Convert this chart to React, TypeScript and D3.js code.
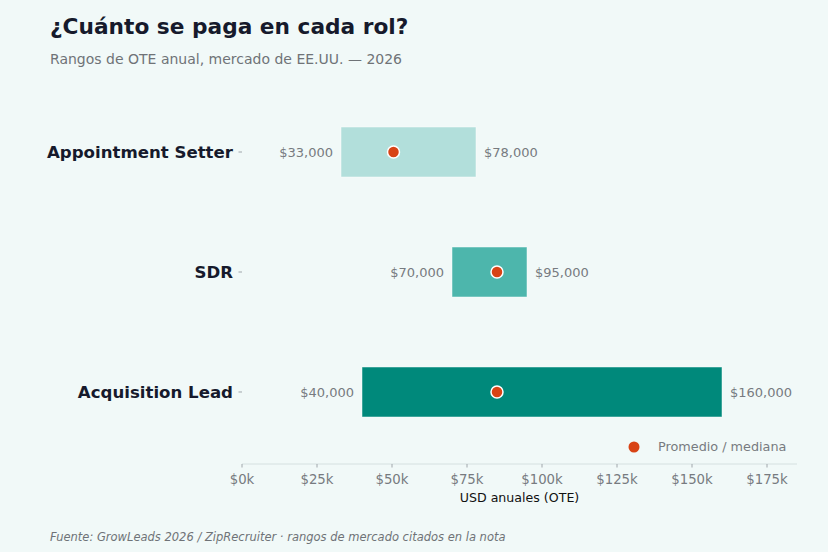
import React from "react";
import * as d3 from "d3";

const roles = ["Appointment Setter", "SDR", "Acquisition Lead"];
const lows = [33000, 70000, 40000];
const highs = [78000, 95000, 160000];
const mids = [50500, 85000, 85000];
const barColors = ["#b2dfdb", "#4db6ac", "#00897b"];
const xTicks = [0, 25000, 50000, 75000, 100000, 125000, 150000, 175000];

const W = 828, H = 552;
const FONT = "DejaVu Sans, sans-serif";

export default function App() {
  const x = d3.scaleLinear().domain([0, 175000]).range([242, 767]);
  const y = d3.scaleBand().domain(roles).range([92, 452]).paddingInner(0.5833).paddingOuter(0.2917);
  const fmt = (v: number) => "$" + d3.format(",")(v);
  const axisY = 464;
  return (
    <div style={{ position: "absolute", left: 0, top: 0 }}>
      <svg width={W} height={H} style={{ display: "block", fontFamily: FONT }}>
        <rect width={W} height={H} fill="#f1f9f8" />
        <text x={50} y={34} fontSize={21.7} fontWeight="bold" fill="#161a2c">¿Cuánto se paga en cada rol?</text>
        <text x={50} y={64} fontSize={14} fill="#6f7377">Rangos de OTE anual, mercado de EE.UU. — 2026</text>
        {roles.map((r, i) => {
          const y0 = y(r)!;
          const bw = y.bandwidth();
          const cy = y0 + bw / 2;
          return (
            <g key={r}>
              <rect x={x(lows[i])} y={y0} width={x(highs[i]) - x(lows[i])} height={bw} fill={barColors[i]} stroke="#ffffff" strokeOpacity={0.6} strokeWidth={0.8} />
              <circle cx={x(mids[i])} cy={cy} r={6} fill="#d84315" stroke="#ffffff" strokeWidth={1.5} />
              <text x={x(lows[i]) - 8} y={cy} dy="0.35em" textAnchor="end" fontSize={13} fill="#777b80">{fmt(lows[i])}</text>
              <text x={x(highs[i]) + 8} y={cy} dy="0.35em" textAnchor="start" fontSize={13} fill="#777b80">{fmt(highs[i])}</text>
              <line x1={238.5} x2={242} y1={cy} y2={cy} stroke="#a0a6ab" strokeWidth={1} />
              <text x={233} y={cy} dy="0.35em" textAnchor="end" fontSize={16.6} fontWeight="bold" fill="#161a2c">{r}</text>
            </g>
          );
        })}
        <line x1={242} x2={797} y1={axisY} y2={axisY} stroke="#d5e0e0" strokeWidth={1} />
        {xTicks.map((t) => (
          <g key={t}>
            <line x1={x(t)} x2={x(t)} y1={axisY} y2={axisY + 3.5} stroke="#a0a6ab" strokeWidth={1} />
            <text x={x(t)} y={axisY + 15} dy="0.35em" textAnchor="middle" fontSize={13.3} fill="#777b80">{"$" + t / 1000 + "k"}</text>
          </g>
        ))}
        <text x={519.5} y={498} dy="0.35em" textAnchor="middle" fontSize={12.6} fill="#111111">USD anuales (OTE)</text>
        <circle cx={634} cy={447} r={5.5} fill="#d84315" />
        <text x={658} y={447} dy="0.35em" fontSize={12.8} fill="#777b80">Promedio / mediana</text>
        <text x={50} y={541} fontSize={11.5} fontStyle="italic" fill="#6f7377">Fuente: GrowLeads 2026 / ZipRecruiter · rangos de mercado citados en la nota</text>
      </svg>
    </div>
  );
}
